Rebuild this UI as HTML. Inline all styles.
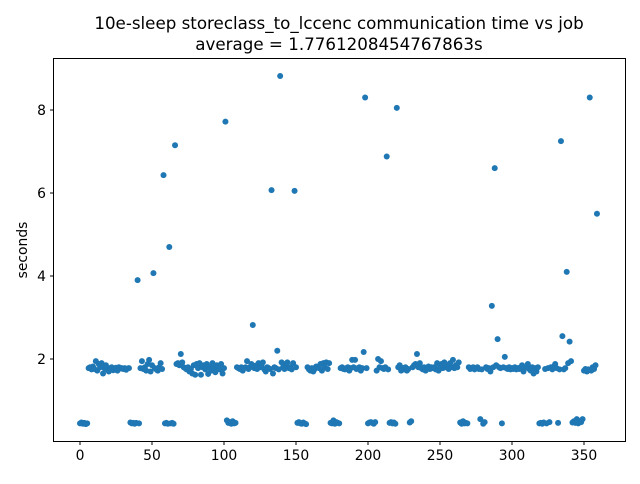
<!DOCTYPE html>
<html><head><meta charset="utf-8"><style>
body{margin:0;background:#fff;font-family:"DejaVu Sans","Liberation Sans",sans-serif}
svg text{font-family:"DejaVu Sans","Liberation Sans",sans-serif}
</style></head><body>
<svg id="c" width="640" height="480" xmlns="http://www.w3.org/2000/svg">
<rect width="640" height="480" fill="#fff"/>
<text x="339" y="29" font-size="16.7" text-anchor="middle">10e-sleep storeclass_to_lccenc communication time vs job</text>
<text x="339" y="50" font-size="16.7" text-anchor="middle">average = 1.7761208454767863s</text>
<text transform="translate(27,250) rotate(-90)" font-size="13.9" text-anchor="middle">seconds</text>
<g id="marks"></g>
<rect x="53.5" y="58.5" width="572" height="383" fill="none" stroke="#000" stroke-width="1"/>
<g id="axes"></g>
</svg>
<script>
const xTicks=[0,50,100,150,200,250,300,350];
const yTicks=[2,4,6,8];
const values=[
0.45,0.47,0.44,0.46,0.43,0.45,1.78,1.80,1.75,1.82,
1.76,1.95,1.72,1.88,1.80,1.90,1.65,1.78,1.85,1.74,
1.70,1.78,1.80,1.73,1.76,1.79,1.72,1.80,1.77,1.78,
1.76,1.78,1.74,1.77,1.78,0.47,0.45,0.46,0.44,0.46,
3.90,0.45,1.78,1.95,1.76,1.80,1.72,1.88,1.98,1.70,
1.85,4.07,1.78,1.75,1.72,1.80,1.90,1.76,6.43,0.45,
0.46,0.44,4.70,0.45,0.46,0.44,7.15,1.88,1.90,1.85,
2.12,1.92,1.80,1.78,1.75,1.80,1.70,1.76,1.65,1.85,
1.62,1.88,1.78,1.90,1.62,1.80,1.85,1.75,1.88,1.64,
1.80,1.72,1.90,1.78,1.68,1.85,1.80,1.75,1.88,1.65,
1.78,7.72,0.52,0.46,0.48,0.44,0.50,0.45,0.46,1.80,
1.78,1.76,1.80,1.72,1.78,1.80,1.95,1.76,1.80,1.88,
2.82,1.78,1.84,1.76,1.90,1.80,1.85,1.92,1.75,1.70,
1.80,1.78,1.76,6.07,1.65,1.80,1.78,2.20,1.75,8.82,
1.92,1.80,1.76,1.88,1.92,1.78,1.80,1.75,1.90,6.05,
1.80,0.46,0.48,0.45,0.44,0.47,0.45,0.43,1.80,1.75,
1.72,1.78,1.70,1.76,1.82,1.80,1.78,1.88,1.72,1.90,
1.80,1.92,1.76,1.90,0.46,0.45,0.52,0.44,0.48,0.46,
0.45,1.78,1.80,1.76,1.75,1.78,1.80,1.72,1.78,1.98,
1.80,1.98,1.76,1.78,1.80,1.72,1.78,2.17,8.30,1.78,
0.45,0.47,0.48,0.46,0.44,0.48,1.72,2.00,1.80,1.95,
1.78,1.76,1.80,6.88,1.75,0.46,0.48,0.45,0.47,0.44,
8.05,1.80,1.85,1.72,1.78,1.75,1.80,1.72,1.76,0.47,
0.50,1.80,1.85,1.88,2.12,1.80,1.90,1.78,1.75,1.80,
1.72,1.78,1.82,1.76,1.80,1.78,1.80,1.75,1.90,1.72,
1.80,1.88,1.78,1.92,1.80,1.85,1.76,1.90,1.80,1.98,
1.78,1.85,1.80,1.92,0.47,0.44,0.50,0.45,0.46,0.45,
1.80,1.76,1.78,1.80,1.75,1.78,1.80,1.76,0.55,1.75,
0.44,0.48,1.80,1.76,1.78,1.70,3.28,1.80,6.60,1.85,
2.48,1.80,1.78,0.45,1.80,2.05,1.78,1.76,1.80,1.75,
1.78,1.76,1.80,1.75,1.78,1.76,1.80,1.85,1.70,1.78,
1.80,1.88,1.76,1.72,1.80,1.65,1.78,1.70,1.80,0.45,
0.46,0.44,0.47,1.76,0.45,1.78,0.48,1.80,1.75,1.82,
1.88,1.78,0.46,1.75,7.25,2.55,1.75,1.78,4.10,1.90,
2.42,1.95,0.47,0.50,0.46,0.55,0.45,0.50,0.48,0.55,
1.72,1.76,1.70,1.75,8.30,1.72,1.80,1.76,1.85,5.50];
const NS="http://www.w3.org/2000/svg";
const xs=v=>80+v*1.44;
const ys=v=>442-v*41.5;
const marks=document.getElementById('marks');
values.forEach((v,i)=>{
 const c=document.createElementNS(NS,'circle');
 c.setAttribute('cx',xs(i));c.setAttribute('cy',ys(v));c.setAttribute('r',3);c.setAttribute('fill','#1f77b4');
 
 
 marks.appendChild(c);
});
const ax=document.getElementById('axes');
xTicks.forEach(t=>{
 const l=document.createElementNS(NS,'line');
 l.setAttribute('x1',xs(t));l.setAttribute('x2',xs(t));l.setAttribute('y1',441.5);l.setAttribute('y2',445);l.setAttribute('stroke','#000');
 
 
 ax.appendChild(l);
 const tx=document.createElementNS(NS,'text');
 tx.setAttribute('x',xs(t));tx.setAttribute('y',460);tx.setAttribute('font-size','13.9');tx.setAttribute('text-anchor','middle');
 tx.textContent=t;
 
 
 ax.appendChild(tx);
});
yTicks.forEach(t=>{
 const l=document.createElementNS(NS,'line');
 l.setAttribute('x1',50);l.setAttribute('x2',53.5);l.setAttribute('y1',ys(t));l.setAttribute('y2',ys(t));l.setAttribute('stroke','#000');
 
 
 ax.appendChild(l);
 const tx=document.createElementNS(NS,'text');
 tx.setAttribute('x',46);tx.setAttribute('y',ys(t)+5);tx.setAttribute('font-size','13.9');tx.setAttribute('text-anchor','end');
 tx.textContent=t;
 
 
 ax.appendChild(tx);
});
</script>
</body></html>
